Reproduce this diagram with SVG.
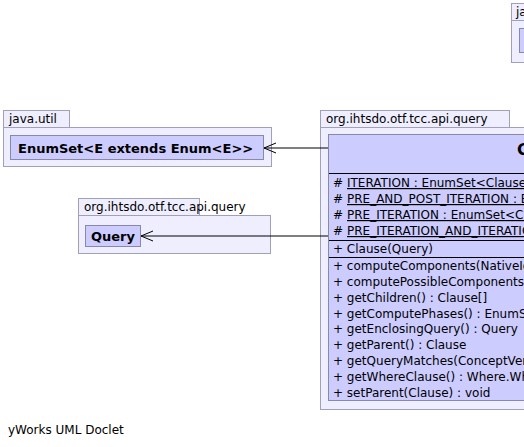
<svg xmlns="http://www.w3.org/2000/svg" width="524" height="447" viewBox="0 0 524 447">
<defs>
<marker id="open" markerWidth="14" markerHeight="12" refX="13" refY="6" orient="auto" markerUnits="userSpaceOnUse">
<path d="M1,1 L13,6 L1,11" fill="none" stroke="#000" stroke-width="1"/>
</marker>
</defs>
<style>
text{font-family:"DejaVu Sans","Liberation Sans",sans-serif;font-size:12px;fill:#000}
.pkg{fill:#eeeeff;stroke:#a0a0b8;stroke-width:1}
.cls{fill:#ccccff;stroke:#8888aa;stroke-width:1}
.sep{stroke:#000;stroke-width:1}
.b{font-weight:bold;font-size:13px}
.u{text-decoration:underline}
.edge{fill:none;stroke:#000;stroke-width:1}
</style>
<rect width="524" height="447" fill="#fff"/>
<g id="pkg-top-right">
<rect class="pkg" x="511.5" y="3.5" width="40" height="17"/>
<rect class="pkg" x="511.5" y="20.5" width="60" height="42"/>
<rect class="cls" x="519.5" y="28.5" width="40" height="24"/>
<text x="516" y="16">java</text>
</g>
<g id="pkg-java-util">
<rect class="pkg" x="3.5" y="110.5" width="66" height="17"/>
<rect class="pkg" x="3.5" y="127.5" width="268" height="39"/>
<text x="9" y="123">java.util</text>
</g>
<g id="EnumSet">
<rect class="cls" x="10.5" y="135.5" width="253" height="24"/>
<text class="b" x="18" y="153">EnumSet&lt;E extends Enum&lt;E&gt;&gt;</text>
</g>
<g id="pkg-query-left">
<rect class="pkg" x="78.5" y="198.5" width="121" height="17"/>
<rect class="pkg" x="78.5" y="215.5" width="192" height="38"/>
<text x="84" y="211">org.ihtsdo.otf.tcc.api.query</text>
</g>
<g id="Query">
<rect class="cls" x="85.5" y="225.5" width="55" height="21"/>
<text class="b" x="91" y="241">Query</text>
</g>
<g id="pkg-query-right">
<rect class="pkg" x="320.5" y="110.5" width="189" height="17"/>
<rect class="pkg" x="320.5" y="127.5" width="220" height="282"/>
<text x="326" y="123">org.ihtsdo.otf.tcc.api.query</text>
</g>
<g id="Clause">
<rect class="cls" x="328.5" y="134.5" width="220" height="266"/>
<line class="sep" x1="329" y1="173.5" x2="548" y2="173.5"/>
<line class="sep" x1="329" y1="240.5" x2="548" y2="240.5"/>
<line class="sep" x1="329" y1="257.5" x2="548" y2="257.5"/>
<text class="b" x="517" y="155" style="font-size:16px">Clause</text>
<text x="333" y="187">#</text><text class="u" x="347" y="187">ITERATION : EnumSet&lt;ClauseComputeType&gt;</text>
<text x="333" y="203">#</text><text class="u" x="347" y="203">PRE_AND_POST_ITERATION : EnumSet&lt;ClauseComputeType&gt;</text>
<text x="333" y="219">#</text><text class="u" x="347" y="219">PRE_ITERATION : EnumSet&lt;ClauseComputeType&gt;</text>
<text x="333" y="235">#</text><text class="u" x="347" y="235">PRE_ITERATION_AND_ITERATION : EnumSet&lt;ClauseComputeType&gt;</text>
<text x="333" y="253">+ Clause(Query)</text>
<text x="333" y="270">+ computeComponents(NativeIdSetBI)</text>
<text x="333" y="286">+ computePossibleComponents(NativeIdSetBI)</text>
<text x="333" y="302">+ getChildren() : Clause[]</text>
<text x="333" y="318">+ getComputePhases() : EnumSet</text>
<text x="333" y="333">+ getEnclosingQuery() : Query</text>
<text x="333" y="349">+ getParent() : Clause</text>
<text x="333" y="365">+ getQueryMatches(ConceptVersionBI)</text>
<text x="333" y="381">+ getWhereClause() : Where.WhereClause</text>
<text x="333" y="397">+ setParent(Clause) : void</text>
</g>
<g id="connectors">
<path class="edge" d="M328,148 L264,148" marker-end="url(#open)"/>
<path class="edge" d="M328,236 L141,236" marker-end="url(#open)"/>
</g>
<text x="8" y="434">yWorks UML Doclet</text>
</svg>
